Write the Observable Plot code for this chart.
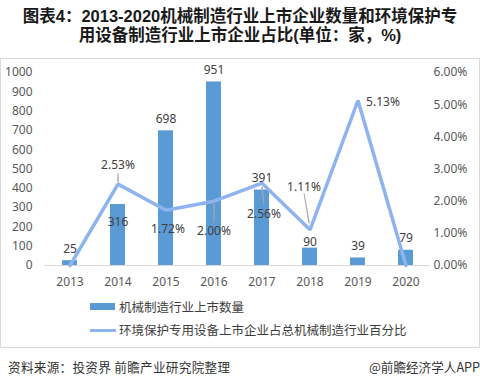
<!DOCTYPE html>
<html><head><meta charset="utf-8">
<script src="https://cdn.jsdelivr.net/npm/d3@7"></script>
<script src="https://cdn.jsdelivr.net/npm/@observablehq/plot@0.6"></script>
<style>
  html,body{margin:0;padding:0;background:#fff;}
  body{width:480px;height:387px;position:relative;overflow:hidden;font-family:"Noto Sans","Noto Sans CJK SC",sans-serif;}
  #title{position:absolute;top:7px;left:0;width:480px;text-align:center;font-family:"Liberation Sans","Noto Sans CJK SC",sans-serif;font-weight:bold;font-size:16.5px;line-height:19px;color:#1a1a1a;}
  #box{position:absolute;top:58px;left:0;width:478px;height:288px;border:1px solid #d9d9d9;}
  #chart{position:absolute;top:59px;left:0;}
  .leg{position:absolute;left:90px;font-family:"Noto Sans CJK SC",sans-serif;font-size:12.5px;color:#404040;height:16px;line-height:16px;}
  .leg span{position:absolute;left:0;}
  .leg .txt{left:29px;white-space:nowrap;}
  #foot{position:absolute;top:357px;left:8px;font-family:"Noto Sans CJK SC",sans-serif;font-size:12.6px;color:#333;letter-spacing:0.3px;}
  #app{position:absolute;top:357px;right:0;font-family:"Noto Sans CJK SC",sans-serif;font-size:12.6px;color:#333;}
</style>
</head><body>
<div id="title">图表4：2013-2020机械制造行业上市企业数量和环境保护专<br>用设备制造行业上市企业占比(单位：家，%)</div>
<div id="box"></div>
<div id="chart"></div>
<div class="leg" style="top:299px"><span style="top:4px;width:25px;height:7px;background:#5b9bd5"></span><span class="txt">机械制造行业上市数量</span></div>
<div class="leg" style="top:322px"><span style="top:7px;width:26px;height:3px;background:#8db4ee"></span><span class="txt">环境保护专用设备上市企业占总机械制造行业百分比</span></div>
<div id="foot">资料来源：投资界 前瞻产业研究院整理</div>
<div id="app">@前瞻经济学人APP</div>
<script>
const years = ["2013","2014","2015","2016","2017","2018","2019","2020"];
const counts = [25, 316, 698, 951, 391, 90, 39, 79];
const shares = [0, 2.53, 1.72, 2.00, 2.56, 1.11, 5.13, 0]; // percent
const countTicks = [0,100,200,300,400,500,600,700,800,900,1000];
const shareTicks = [0,1,2,3,4,5,6];

const K = 1000 / 6; // maps share axis (0–6%) onto count axis (0–1000)
const data = years.map((year, i) => ({year, count: counts[i], share: shares[i]}));
const byYear = y => d => d.year === y;

// label placement (pixel offsets)
const countLabelPlace = [
  {years:["2013","2015","2016","2017","2019","2020"], dy:-12},
  {years:["2014"], dy:18},
  {years:["2018"], dy:-6}
];
const shareLabelPlace = [
  {year:"2014", dx:0, dy:-19},
  {year:"2015", dx:2, dy:19},
  {year:"2016", dx:0, dy:30},
  {year:"2017", dx:2, dy:31},
  {year:"2018", dx:-6, dy:-43},
  {year:"2019", dx:25, dy:2}
];
const leaders = [
  {year:"2014", dy:-2, length:9, rotate:0},
  {year:"2016", dy:3, length:19, rotate:180},
  {year:"2017", dy:4, length:18, rotate:174},
  {year:"2018", dx:-1, dy:-7, length:30, rotate:-9.5}
];

const marks = [
  Plot.ruleY([0], {stroke:"#d9d9d9"}),
  Plot.barY(data, {x:"year", y:"count", fill:"#5b9bd5"}),
  Plot.line(data, {x:"year", y: d => d.share * K, stroke:"#8db4ee", strokeWidth:3.5, strokeLinejoin:"miter"}),
  Plot.axisX({tickSize:0, tickPadding:12, label:null, fontSize:12}),
  Plot.axisY({ticks:countTicks, tickFormat: v => String(v), tickSize:0, tickPadding:12, label:null, fontSize:12}),
  Plot.axisY({anchor:"right", ticks: shareTicks.map(s => s * K), tickFormat: v => (v / K).toFixed(2) + "%", tickSize:0, tickPadding:3, label:null, fontSize:12})
];
for (const p of countLabelPlace) {
  marks.push(Plot.text(data.filter(d => p.years.includes(d.year)), {x:"year", y:"count", text: d => String(d.count), dy:p.dy, fill:"#404040", fontSize:12}));
}
for (const p of shareLabelPlace) {
  marks.push(Plot.text(data.filter(byYear(p.year)), {x:"year", y: d => d.share * K, text: d => d.share.toFixed(2) + "%", dx:p.dx, dy:p.dy, fill:"#404040", fontSize:12}));
}
for (const l of leaders) {
  marks.push(Plot.vector(data.filter(byYear(l.year)), {x:"year", y: d => d.share * K, length:l.length, rotate:l.rotate, anchor:"start", shape:"spike", r:0.4, fill:"#a6a6a6", stroke:"#a6a6a6", strokeWidth:0.6, dx:l.dx || 0, dy:l.dy}));
}

const chart = Plot.plot({
  width:480, height:232,
  marginTop:13, marginBottom:26, marginLeft:44, marginRight:50,
  style:{fontFamily:"'Noto Sans','Noto Sans CJK SC',sans-serif", fontSize:"12px", color:"#595959", background:"transparent", overflow:"visible"},
  x:{domain:years, paddingInner:0.69, paddingOuter:0.345, axis:null},
  y:{domain:[0,1000], axis:null},
  marks
});
document.getElementById("chart").appendChild(chart);
</script>
</body></html>
